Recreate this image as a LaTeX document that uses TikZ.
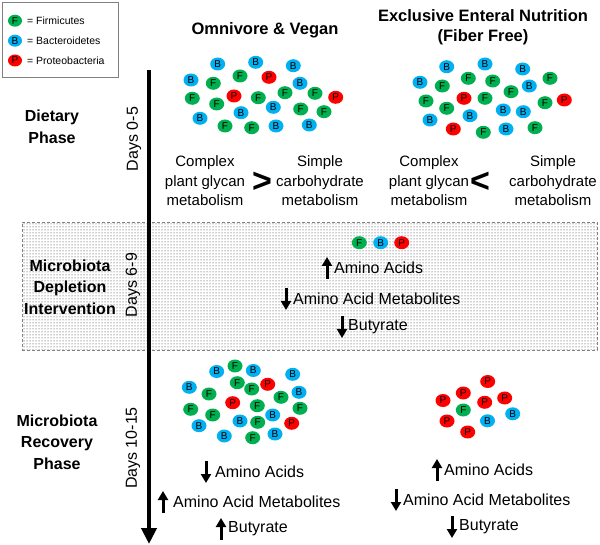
\documentclass[tikz,border=0pt]{standalone}
\usepackage{fontspec}
\setmainfont{Liberation Sans}
\usetikzlibrary{shapes.geometric,arrows.meta,patterns,calc}
\definecolor{firm}{RGB}{0,176,80}
\definecolor{bact}{RGB}{0,176,240}
\definecolor{prot}{RGB}{255,0,0}
\begin{document}
\begin{tikzpicture}[x=1pt,y=-1pt,
 ball/.style={ellipse, inner sep=0pt, minimum width=15pt, minimum height=13pt, font=\fontsize{10}{10}\selectfont},
 fball/.style={ball, fill=firm},
 bball/.style={ball, fill=bact},
 pball/.style={ball, fill=prot},
 lball/.style={minimum width=14pt, minimum height=12pt},
 lbl/.style={font=\fontsize{16}{16}\selectfont, inner sep=0pt, anchor=west},
 cmp/.style={align=center, font=\fontsize{15}{19.5}\selectfont, inner sep=0pt},
 ttl/.style={align=center, font=\fontsize{16.5}{20}\selectfont\bfseries, inner sep=0pt},
 phase/.style={align=center, font=\fontsize{16}{21.5}\selectfont\bfseries, inner sep=0pt},
 days/.style={rotate=90, font=\fontsize{16}{16}\selectfont, inner sep=0pt},
 chg/.style={line width=3pt, -{Triangle[width=10pt,length=9pt]}},
 legtext/.style={font=\fontsize{10.5}{10.5}\selectfont, anchor=west, inner sep=0pt},
 cmpsign/.style={font=\fontsize{34}{34}\selectfont\bfseries, inner sep=0pt},
]
\useasboundingbox (0,0) rectangle (600,545);
% depletion band
\node[pattern=dots, pattern color=black!85, draw=gray, densely dashed, line width=0.8pt,
      minimum width=575pt, minimum height=128pt, inner sep=0pt] (band) at (309.5,286) {};
% legend
\node[draw=gray, line width=0.8pt, minimum width=116pt, minimum height=75pt, inner sep=0pt] (legend) at (60,39.5) {};
\node[fball,lball] (lF) at (15,20.7) {F};
\node[bball,lball] (lB) at (15,40.7) {B};
\node[pball,lball] (lP) at (15,60.5) {P};
\node[legtext] (ltF) at (27,20.7) {= Firmicutes};
\node[legtext] (ltB) at (27,40.7) {= Bacteroidetes};
\node[legtext] (ltP) at (27,60.5) {= Proteobacteria};
% titles
\node[ttl] (t1) at (265,30) {Omnivore \& Vegan};
\node[ttl] (t2) at (483,27) {Exclusive Enteral Nutrition\\(Fiber Free)};
% phases
\node[phase] (ph1) at (52,127) {Dietary\\Phase};
\node[phase] (ph2) at (70,287) {Microbiota\\Depletion\\Intervention};
\node[phase] (ph3) at (57,442) {Microbiota\\Recovery\\Phase};
% days
\node[days] (d1) at (134,139) {Days 0-5};
\node[days] (d2) at (133,285) {Days 6-9};
\node[days] (d3) at (133,448) {Days 10-15};
% timeline
\coordinate (axtop) at (149,70);
\coordinate (axbot) at (149,544);
\draw[line width=4pt, -{Triangle[width=15pt,length=16pt]}] (axtop) -- (axbot);
% comparisons
\node[cmp] (c1) at (205,181) {Complex\\plant glycan\\metabolism};
\node[cmpsign] (g1) at (262,182) {>};
\node[cmp] (c2) at (320,181) {Simple\\carbohydrate\\metabolism};
\node[cmp] (c3) at (429,181) {Complex\\plant glycan\\metabolism};
\node[cmpsign] (g2) at (480,182) {<};
\node[cmp] (c4) at (553,181) {Simple\\carbohydrate\\metabolism};
% top-left cluster
\foreach \x/\y [count=\i] in {240/76,213.3/83.3,192.3/98.3,216.7/104,258.3/97.7,285/92.7,315/93.3,300.7/109,324/111.7,225/126,251.7/127.7}
  \node[fball] (tlF\i) at (\x,\y) {F};
\foreach \x/\y [count=\i] in {217.7/64,255.7/62.3,293.3/65.7,191/80,300/83.3,273.3/107.3,241/112.7,200/118.3,276/126,309.3/125}
  \node[bball] (tlB\i) at (\x,\y) {B};
\foreach \x/\y [count=\i] in {269/77.3,234/96,335.7/97.3}
  \node[pball] (tlP\i) at (\x,\y) {P};
% top-right cluster
\foreach \x/\y [count=\i] in {468.3/78.3,492.7/81,511/91.7,550/78.3,442.3/86,426/101,446.7/108.3,485/98.3,545/102.7,483.3/132.3,535/127.7}
  \node[fball] (trF\i) at (\x,\y) {F};
\foreach \x/\y [count=\i] in {446.7/66.7,485/64,522.7/69,420/82.3,529.3/86,470/115.7,503.3/110,523.3/111.7,430/120,506/129}
  \node[bball] (trB\i) at (\x,\y) {B};
\foreach \x/\y [count=\i] in {464/98.3,564.3/100,453.3/129}
  \node[pball] (trP\i) at (\x,\y) {P};
% depletion
\node[fball] (mF) at (359.3,242.7) {F};
\node[bball] (mB) at (380.7,242.7) {B};
\node[pball] (mP) at (401.7,242.7) {P};
\node[lbl] (m1) at (334,268) {Amino Acids};
\node[lbl] (m2) at (293,299) {Amino Acid Metabolites};
\node[lbl] (m3) at (348,327) {Butyrate};
\draw[chg] ($(m1.west)+(-7,11)$) -- ($(m1.west)+(-7,-11)$);
\draw[chg] ($(m2.west)+(-7,-11)$) -- ($(m2.west)+(-7,11)$);
\draw[chg] ($(m3.west)+(-6,-11)$) -- ($(m3.west)+(-6,11)$);
% bottom-left cluster
\foreach \x/\y [count=\i] in {235/366,237.3/382.7,251.7/389,209/394,281/397.3,257.3/405.7,190.7/409.3,212.7/415,300/408.3,257.7/422.3,252.7/437.7}
  \node[fball] (blF\i) at (\x,\y) {F};
\foreach \x/\y [count=\i] in {216.7/371.5,253.3/370.5,292.7/374.3,189.3/387.3,299/392.3,272.7/415,240/421,199/425.7,224.3/436,275/434}
  \node[bball] (blB\i) at (\x,\y) {B};
\foreach \x/\y [count=\i] in {267.7/384.3,232.7/402.7,291.7/423.3}
  \node[pball] (blP\i) at (\x,\y) {P};
\node[lbl] (bl1) at (215,472) {Amino Acids};
\node[lbl] (bl2) at (173,502) {Amino Acid Metabolites};
\node[lbl] (bl3) at (228,529) {Butyrate};
\draw[chg] ($(bl1.west)+(-9,-11)$) -- ($(bl1.west)+(-9,11)$);
\draw[chg] ($(bl2.west)+(-10,11)$) -- ($(bl2.west)+(-10,-11)$);
\draw[chg] ($(bl3.west)+(-7,11)$) -- ($(bl3.west)+(-7,-11)$);
% bottom-right cluster
\foreach \x/\y [count=\i] in {487.7/381.5,463.3/393,443/400.5,484.7/402.3,504.7/398,447/421,467.7/432}
  \node[pball] (brP\i) at (\x,\y) {P};
\foreach \x/\y [count=\i] in {512.7/413.8,487.5/420.8}
  \node[bball] (brB\i) at (\x,\y) {B};
\node[fball] (brF1) at (463.3,410) {F};
\node[lbl] (br1) at (444,470) {Amino Acids};
\node[lbl] (br2) at (403,500) {Amino Acid Metabolites};
\node[lbl] (br3) at (459,527) {Butyrate};
\draw[chg] ($(br1.west)+(-7,11)$) -- ($(br1.west)+(-7,-11)$);
\draw[chg] ($(br2.west)+(-7,-11)$) -- ($(br2.west)+(-7,11)$);
\draw[chg] ($(br3.west)+(-7,-11)$) -- ($(br3.west)+(-7,11)$);
\end{tikzpicture}
\end{document}
